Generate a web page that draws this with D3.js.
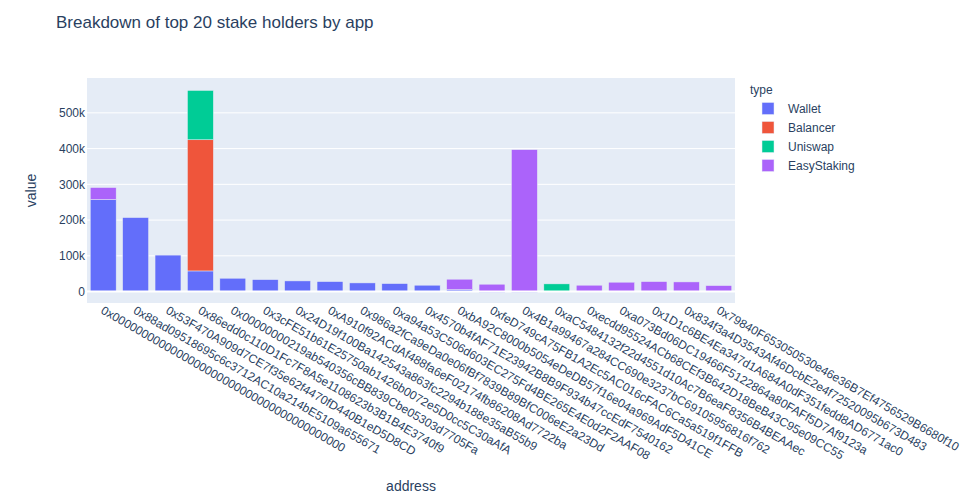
<!DOCTYPE html>
<html>
<head>
<meta charset="utf-8">
<script src="https://cdn.jsdelivr.net/npm/d3@7"></script>
<style>
  body { margin: 0; background: #fff; }
  svg text { font-family: "Liberation Sans", Arial, sans-serif; fill: #2a3f5f; }
</style>
</head>
<body>
<div id="chart"></div>
<script>
// top 20 addresses, in the order they are plotted
const addresses = [
    "0x0000000000000000000000000000000000000000",
    "0x88ad09518695c6c3712AC10a214bE5109a655671",
    "0x53F470A909d7CE7f35e62f4470fD440B1eD5D8CD",
    "0x86edd0c110D1Fc7F8A5e1108623b3B1B4E3740f9",
    "0x00000000219ab540356cBB839Cbe05303d7705Fa",
    "0x3cFE51b61E25750ab1426b0072e5D0cc5C30aAfA",
    "0x24D19f100Ba142543a863fc2294b188e35aB55b9",
    "0xA910f92ACdAf488fa6eF02174fb86208Ad7722ba",
    "0x986a2fCa9eDa0e06fBf7839B89BfC006eE2a23Dd",
    "0xa94a53C506d603EC275Fd4BE265E4E0d2F2AAF08",
    "0x4570b4fAF71E23942B8B9F934b47ccEdF7540162",
    "0xbA92C8000b5054eDeDB57f16e04a969AdF5D41CE",
    "0xfeD749cA75FB1A2Ec5AC016cFAC6Ca5a519f1FFB",
    "0x4B1a99467a284CC690e3237bC69105956816f762",
    "0xaC5484132f22d4551d10Ac7B6eaF8356B4BEAAec",
    "0xecdd95524ACb68CEf3B642D18BeB43C95e09CC55",
    "0xa073Bd06DC19466F5122864a80FAFf5D7Af9123a",
    "0x1D1c6BE4Ea347d1A684A0dF351fedd8AD6771ac0",
    "0x834f3a4D3543Af46DcbE2e4f72520095b673D483",
    "0x79840F653050530e46e36B7Ef4756529B6680f10",
];

const types = ["Wallet", "Balancer", "Uniswap", "EasyStaking"];

const wallet      = [257500, 207000, 102000, 57700, 37300, 33400, 29800, 27900, 24200, 22300, 17800, 5600, -2500, -2500, 0, 0, 0, 0, 0, 0];
const balancer    = [0, 0, 0, 367000, 0, 0, 0, 0, 0, 0, 0, 0, 0, 0, 0, 0, 0, 0, 0, 0];
const uniswap     = [0, 0, 0, 138000, 0, 0, 0, 0, 0, 0, 0, 0, 0, 0, 21500, 0, 0, 0, 0, 0];
const easyStaking = [33500, 0, 0, 0, 0, 0, 0, 0, 0, 0, 0, 29000, 20600, 396900, 0, 17800, 26200, 27900, 27000, 16700];

const yTicks = [0, 100000, 200000, 300000, 400000, 500000];

const colors = ["#636efa", "#EF553B", "#00cc96", "#ab63fa"];

const paintChart = () => {
    const width = 977, height = 502;
    const margin = {left: 87, right: 242, top: 78, bottom: 199};
    const innerW = width - margin.left - margin.right;
    const innerH = height - margin.top - margin.bottom;

    // one row per address, one column per type
    const rows = addresses.map((a, i) => ({
        address: a,
        Wallet: wallet[i],
        Balancer: balancer[i],
        Uniswap: uniswap[i],
        EasyStaking: easyStaking[i],
    }));

    const stacked = d3.stack()
        .keys(types)
        .offset(d3.stackOffsetDiverging)(rows);

    const x = d3.scaleBand()
        .domain(addresses)
        .range([0, innerW])
        .paddingInner(0.2)
        .paddingOuter(0.1);

    const y = d3.scaleLinear()
        .domain([-32000, 597500])
        .range([innerH, 0]);

    const color = d3.scaleOrdinal().domain(types).range(colors);

    const svg = d3.select("#chart").append("svg")
        .attr("width", width)
        .attr("height", height);

    svg.append("text")
        .attr("x", 56)
        .attr("y", 28)
        .style("font-size", "17px")
        .text("Breakdown of top 20 stake holders by app");

    const g = svg.append("g")
        .attr("transform", `translate(${margin.left},${margin.top})`);

    g.append("rect")
        .attr("width", innerW)
        .attr("height", innerH)
        .attr("fill", "#E5ECF6");

    // grid
    g.append("g")
        .selectAll("line")
        .data(yTicks.filter(d => d !== 0))
        .join("line")
        .attr("x1", 0)
        .attr("x2", innerW)
        .attr("y1", d => y(d))
        .attr("y2", d => y(d))
        .attr("stroke", "#fff")
        .attr("stroke-width", 1);

    // y axis labels
    const yAxis = g.append("g")
        .call(d3.axisLeft(y).tickValues(yTicks).tickFormat(d3.format("~s")).tickSize(0).tickPadding(2));
    yAxis.select(".domain").remove();
    yAxis.selectAll("text")
        .style("font-size", "12px")
        .attr("fill", "#2a3f5f")
        .attr("font-family", null);

    // bars
    g.append("g")
        .selectAll("g")
        .data(stacked)
        .join("g")
        .attr("fill", d => color(d.key))
        .selectAll("rect")
        .data(d => d.filter(s => s[1] !== s[0]))
        .join("rect")
        .attr("x", d => x(d.data.address))
        .attr("width", x.bandwidth())
        .attr("y", d => y(Math.max(d[0], d[1])))
        .attr("height", d => Math.abs(y(d[0]) - y(d[1])))
        .attr("stroke", "#E5ECF6")
        .attr("stroke-width", 0.5);

    // zero line on top
    g.append("line")
        .attr("x1", 0)
        .attr("x2", innerW)
        .attr("y1", y(0))
        .attr("y2", y(0))
        .attr("stroke", "#fff")
        .attr("stroke-width", 2);

    // x labels, angled
    const xAxis = g.append("g")
        .attr("transform", `translate(0,${innerH})`)
        .call(d3.axisBottom(x).tickSize(0).tickPadding(0));
    xAxis.select(".domain").remove();
    xAxis.selectAll("text")
        .attr("font-family", null)
        .attr("fill", "#2a3f5f")
        .style("font-size", "12px")
        .attr("text-anchor", "start")
        .attr("y", 0)
        .attr("dy", "0.35em")
        .attr("transform", "translate(-1,6) rotate(30)");

    // axis titles
    svg.append("text")
        .attr("x", margin.left + innerW / 2)
        .attr("y", 491)
        .attr("text-anchor", "middle")
        .style("font-size", "14px")
        .text("address");

    svg.append("text")
        .attr("transform", `translate(36,${margin.top + innerH / 2}) rotate(-90)`)
        .attr("text-anchor", "middle")
        .style("font-size", "14px")
        .text("value");

    // legend
    const legend = svg.append("g").attr("transform", "translate(748,0)");
    legend.append("text")
        .attr("x", 2)
        .attr("y", 94)
        .style("font-size", "12px")
        .text("type");
    const items = legend.selectAll("g.item")
        .data(types)
        .join("g")
        .attr("class", "item")
        .attr("transform", (d, i) => `translate(0,${108.5 + i * 19})`);
    items.append("rect")
        .attr("x", 14)
        .attr("y", -6)
        .attr("width", 12)
        .attr("height", 12)
        .attr("fill", d => color(d))
        .attr("stroke", "#E5ECF6")
        .attr("stroke-width", 0.5);
    items.append("text")
        .attr("x", 40)
        .attr("y", 4.5)
        .style("font-size", "12px")
        .text(d => d);
};

document.addEventListener("DOMContentLoaded", paintChart);
</script>
</body>
</html>
